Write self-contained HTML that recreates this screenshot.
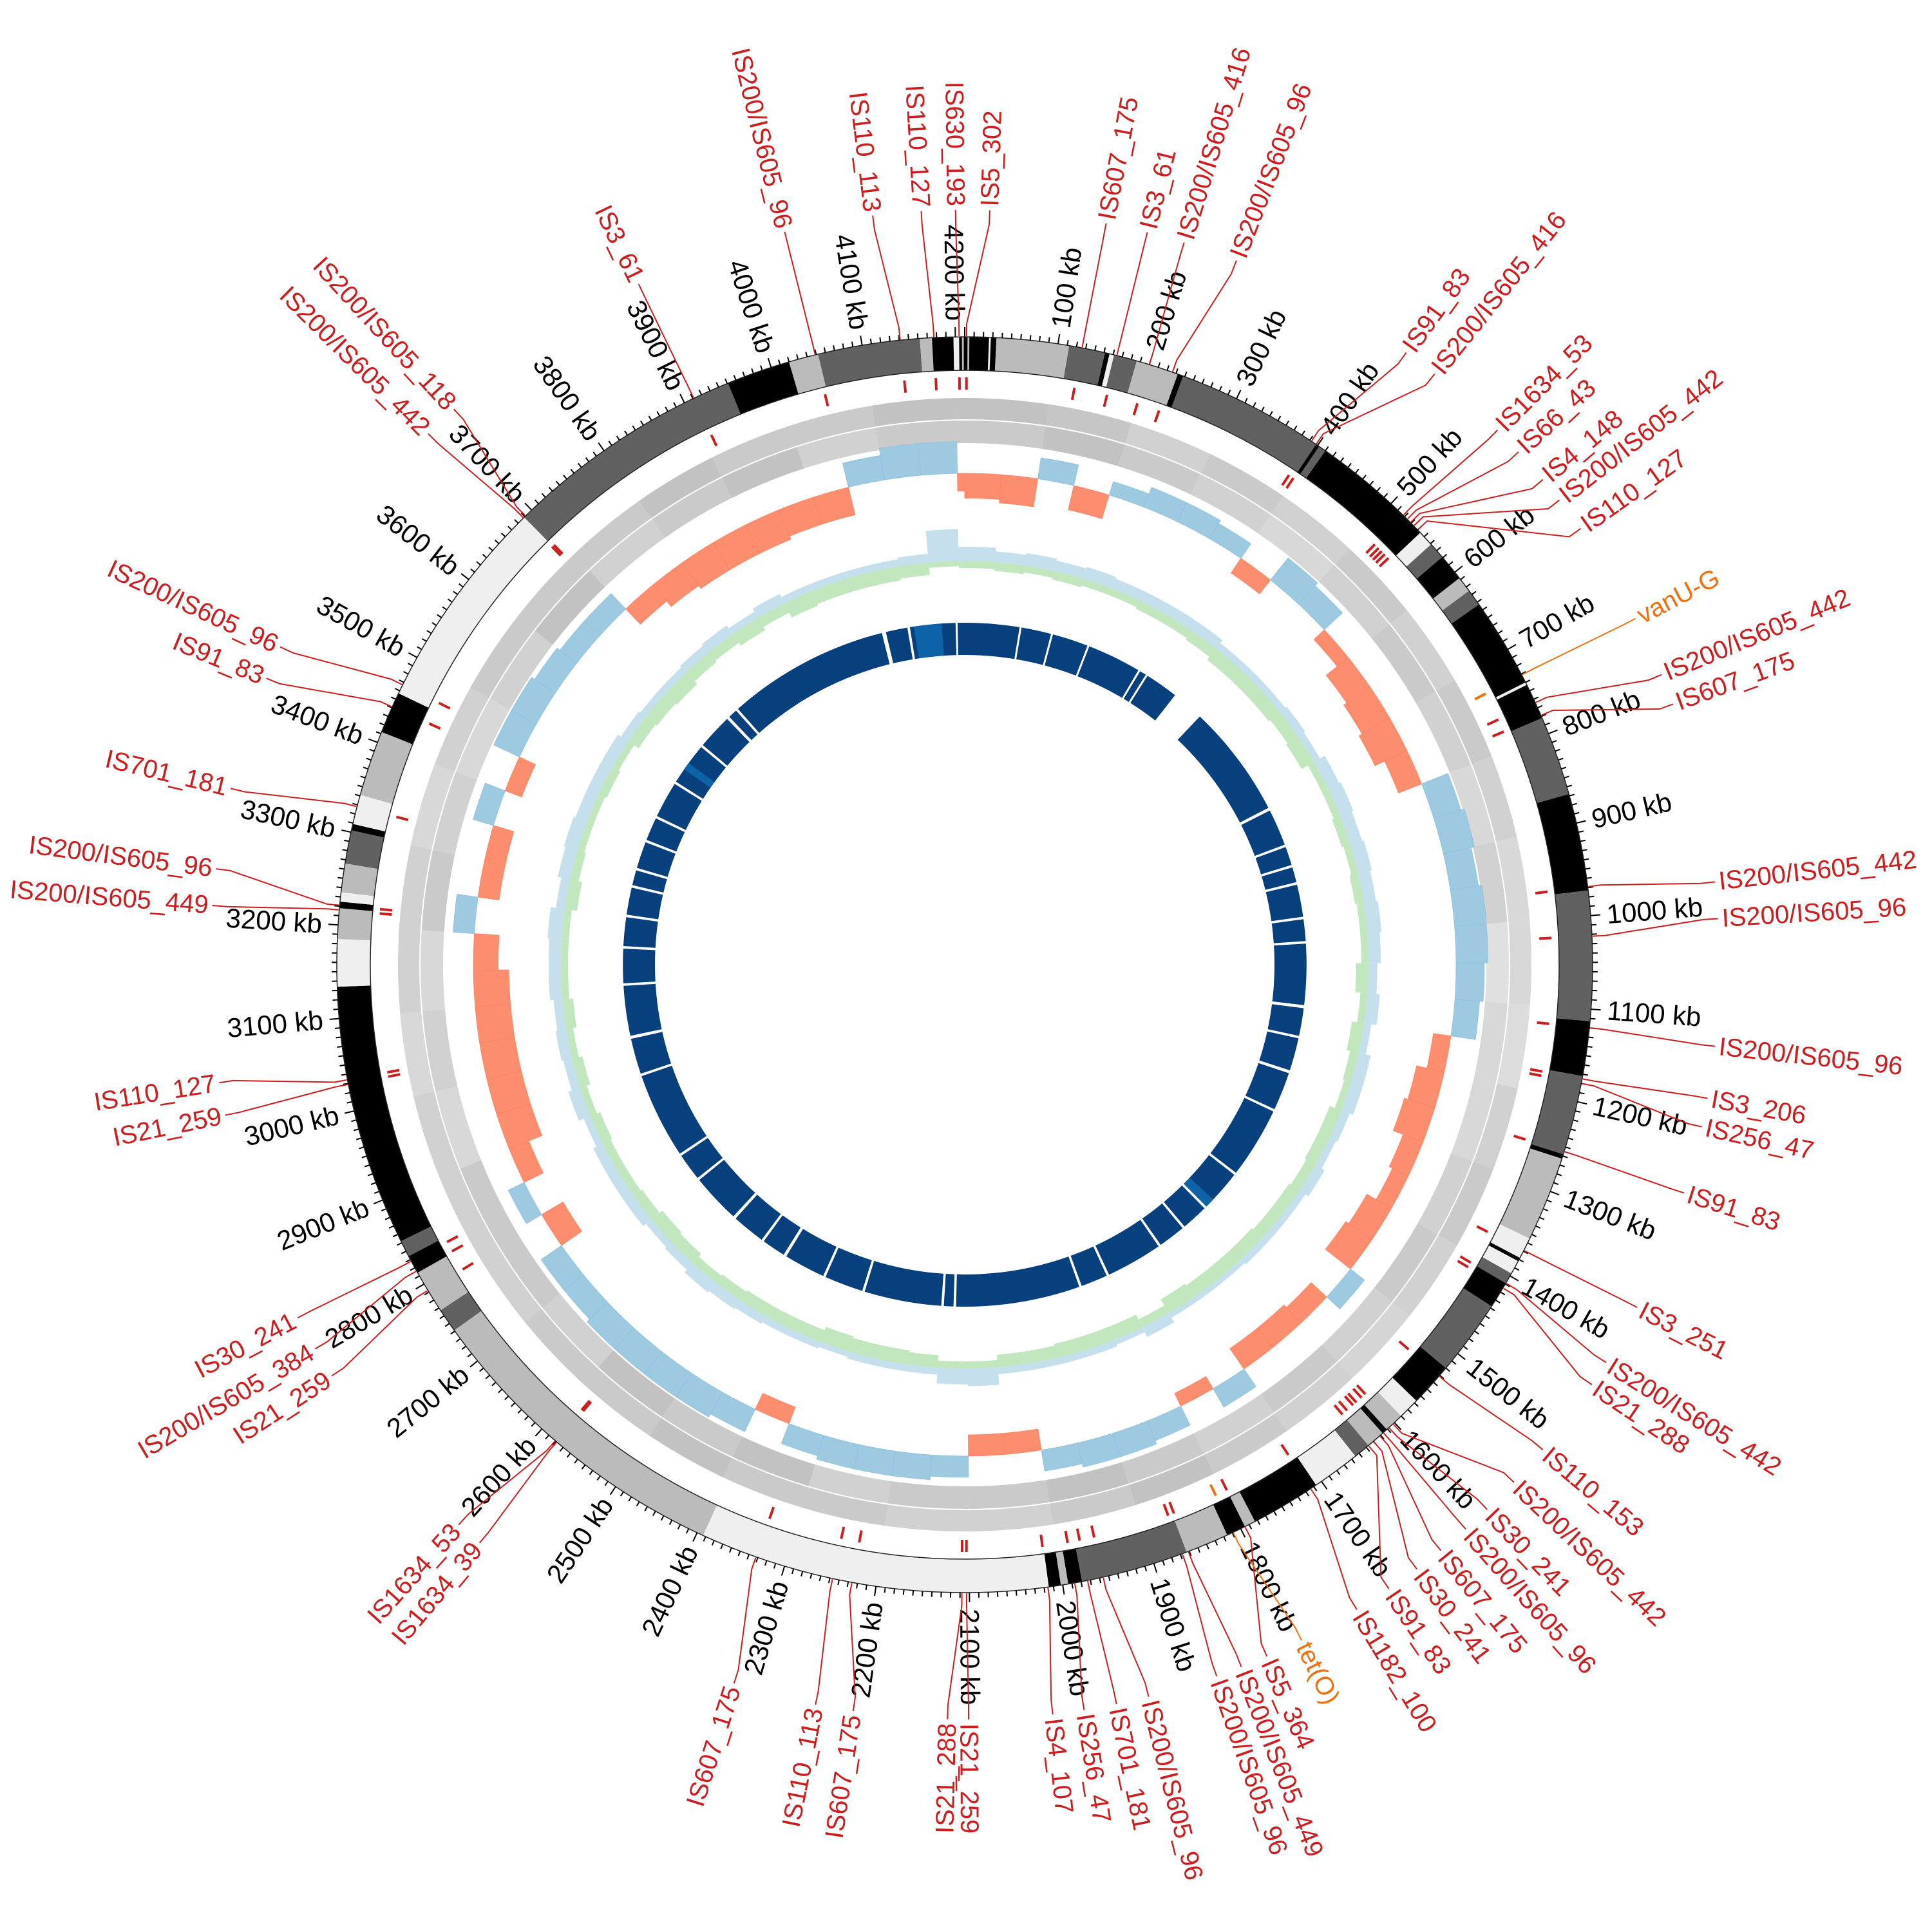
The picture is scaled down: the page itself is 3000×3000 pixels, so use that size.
<!DOCTYPE html>
<html><head><meta charset="utf-8"><title>Circular genome map</title>
<style>
html,body{margin:0;padding:0;background:#fff;}
svg{display:block;}
text{font-family:"Liberation Sans",sans-serif;}
</style></head>
<body>
<svg id="chart" xmlns="http://www.w3.org/2000/svg" width="3000" height="3000" viewBox="0 0 3000 3000">
<rect width="3000" height="3000" fill="#fff"/>
<g id="gGenes"></g>
<g id="gSkew"></g>
<g id="gGC"></g>
<g id="gBlue"></g>
<g id="gRing"></g>
<g id="gTicks"></g>
<g id="gIS"></g>
</svg>
<script>
// ---- data ----
const genomeKb = 4210;
const contigStart = [0,34,112,151,156,161,186,232,237,398,402,410,544,561,579,608,625,643,740,743,782,868,973,1113,1172,1258,1263,1355,1378,1382,1397,1409,1438,1520,1567,1590,1611,1617,1637,1655,1707,1783,1795,1816,1863,1979,1994,2002,2015,2393,2741,2767,2814,2834,2852,3134,3185,3218,3225,3235,3266,3302,3309,3341,3412,3457,3689,3951,4020,4052,4162,4175,4198,4204];
const contigEnd   = [34,112,151,156,161,186,232,237,398,402,410,544,561,579,608,625,643,740,743,782,868,973,1113,1172,1258,1263,1355,1378,1382,1397,1409,1438,1520,1567,1590,1611,1617,1637,1655,1707,1783,1795,1816,1863,1979,1994,2002,2015,2393,2741,2767,2814,2834,2852,3134,3185,3218,3225,3235,3266,3302,3309,3341,3412,3457,3689,3951,4020,4052,4162,4175,4198,4204,4210];
const contigShade = [0,2,1,0,3,1,2,0,1,0,1,0,3,1,0,2,1,0,3,0,1,0,1,0,1,0,2,3,0,3,1,0,1,0,3,2,0,2,1,3,0,2,0,2,1,0,2,0,3,2,1,2,0,1,0,3,2,0,3,2,1,0,3,2,0,3,1,0,2,1,2,0,3,0];
const stripeKb = [26,3,4207,236];
const stripeShade = [3,2,2,0];
const skew = [-0.7,-0.8,0.6,-0.7,0.4,0.6,0.6,0.5,-0.5,0.8,0.7,-0.4,-0.8,-0.9,-1.0,-0.7,0.8,0.9,0.8,0.9,0.9,0.8,0.7,-0.5,-0.8,-0.9,-0.6,-0.5,-0.8,-0.9,0.5,-0.6,-0.7,-0.7,0.6,-0.4,0.6,0.7,0.7,0.6,-0.6,-0.6,0.6,0.7,0.7,0.7,0.6,-0.5,0.7,0.8,0.8,0.8,0.8,0.7,0.7,-0.7,0.5,-0.6,-1.0,-1.0,-1.0,-1.0,-1.0,-0.7,0.6,-0.6,-0.6,0.6,-0.5,0.8,0.8,0.7,0.6,0.6,-0.6,-0.8,-0.9,-0.9,-0.9,-0.8,-0.8,0.7,0.9,0.9,-0.5];
const gcHi = [0.4,0.3,0.35,0.3,0.35,0.3,0.3,0.3,0.3,0.2,0.2,0.2,0.25,0.2,0.35,0.4,0.35,0.4,0.35,0.4,0.35,0.25,0.35,0.2,0.35,0.35,0.25,0.2,0.3,0.2,0.2,0.2,0.15,0.15,0.15,0.3,0.15,0.2,0.2,0.2,0.2,0.5,0.45,0.2,0.2,0.2,0.15,0.2,0.2,0.25,0.3,0.35,0.25,0.2,0.3,0.3,0.3,0.2,0.35,0.25,0.3,0.25,0.35,0.35,0.4,0.25,0.35,0.4,0.35,0.35,0.35,0.25,0.2,0.2,0.25,0.3,0.2,0.3,0.2,0.2,0.2,0.2,0.25,0.9,0.4];
const gcLo = [0.2,0.25,0.2,0.25,0.2,0.2,0.25,0.25,0.3,0.4,0.4,0.4,0.35,0.4,0.2,0.2,0.25,0.2,0.25,0.2,0.2,0.35,0.2,0.35,0.25,0.2,0.35,0.35,0.3,0.35,0.35,0.4,0.4,0.4,0.45,0.25,0.4,0.4,0.4,0.35,0.35,0.2,0.2,0.35,0.4,0.4,0.45,0.35,0.35,0.35,0.3,0.25,0.35,0.4,0.3,0.25,0.25,0.3,0.2,0.3,0.2,0.3,0.2,0.2,0.2,0.35,0.25,0.2,0.2,0.25,0.2,0.35,0.4,0.45,0.35,0.3,0.4,0.3,0.45,0.4,0.4,0.4,0.35,0.15,0.2];
const genesFwd = [0.8,0.75,0.6,0.7,0.6,0.7,0.6,0.7,0.6,0.5,0.5,0.45,0.6,0.7,0.6,0.55,0.6,0.7,0.8,0.7,0.6,0.6,0.7,0.7,0.8,0.7,0.7,0.6,0.6,0.6,0.5,0.6,0.6,0.5,0.6,0.7,0.7,0.7,0.8,0.7,0.7,0.8,0.8];
const genesRev = [0.7,0.8,0.7,0.6,0.5,0.6,0.7,0.6,0.5,0.6,0.4,0.5,0.5,0.6,0.7,0.6,0.7,0.6,0.7,0.8,0.7,0.7,0.6,0.8,0.7,0.8,0.6,0.7,0.7,0.5,0.6,0.5,0.7,0.6,0.5,0.6,0.8,0.6,0.7,0.8,0.6,0.7,0.7];
const gapStart = [4046,4097,4192,108,171,246,357,374,444,733,812,854,889,958,1006,1132,1193,1263,1345,1491,1579,1637,1696,1813,1871,2122,2146,2304,2386,2473,2526,2597,2701,2760,2935,3011,3116,3189,3251,3310,3345,3403,3454,3531,3620,3695,3719];
const gapWidth = [8,5,4,4,4,4,4,4,64,6,5,5,5,5,5,6,5,6,5,5,5,5,5,5,5,5,5,5,5,6,5,6,5,5,5,6,5,5,5,5,5,5,5,5,5,6,5];
const lightStart = [4110,1560,3565];
const lightEnd = [4165,1585,3580];
const isName = ["IS5_302","IS630_193","IS110_127","IS110_113","IS200/IS605_96","IS3_61","IS200/IS605_118","IS200/IS605_442","IS200/IS605_96","IS91_83","IS701_181","IS200/IS605_96","IS200/IS605_449","IS110_127","IS21_259","IS30_241","IS200/IS605_384","IS21_259","IS1634_53","IS1634_39","IS607_175","IS110_113","IS607_175","IS21_288","IS21_259","IS4_107","IS256_47","IS701_181","IS200/IS605_96","IS200/IS605_96","IS200/IS605_449","IS5_364","tet(O)","IS1182_100","IS91_83","IS30_241","IS607_175","IS200/IS605_96","IS30_241","IS200/IS605_442","IS110_153","IS21_288","IS200/IS605_442","IS3_251","IS91_83","IS256_47","IS3_206","IS200/IS605_96","IS200/IS605_96","IS200/IS605_442","IS607_175","IS200/IS605_442","vanU-G","IS110_127","IS200/IS605_442","IS4_148","IS66_43","IS1634_53","IS200/IS605_416","IS91_83","IS200/IS605_96","IS200/IS605_416","IS3_61","IS607_175"];
const isKb = [2,4204,4177,4141,4049,3911,3691,3688,3467,3441,3328,3221,3216,3034,3029,2828,2816,2792,2581,2579,2332,2247,2226,2108,2103,2016,1987,1973,1956,1868,1861,1795,1809,1714,1637,1630,1621,1616,1608,1602,1531,1415,1409,1369,1255,1180,1175,1120,1022,969,779,764,731,540,534,529,524,518,398,392,226,200,164,126];
const isType = ["is","is","is","is","is","is","is","is","is","is","is","is","is","is","is","is","is","is","is","is","is","is","is","is","is","is","is","is","is","is","is","is","arg","is","is","is","is","is","is","is","is","is","is","is","is","is","is","is","is","is","is","is","arg","is","is","is","is","is","is","is","is","is","is","is"];
const labelDeg = [1.9,-0.7,-3.3,-7,-13.8,-25.6,-42.6,-45.3,-65.1,-67.7,-76.5,-82.7,-85.5,-99,-101.5,-117.9,-120.6,-123,-137.9,-140,-162.2,-168.6,-171.5,-178.7,-180.3,173.3,170.9,168.4,165.9,160.5,158.5,156.4,153.5,148.7,145.8,143.2,140.9,138.4,136.2,133.3,130,123.8,121.8,117,107.6,102.4,100.2,96.2,86.5,83.7,69.8,67.4,62.7,54.7,52,50,47.2,44.9,38.5,35.8,21.1,16.9,14,10.8];

// ---- drawing ----
const NS = "http://www.w3.org/2000/svg";
const cx = 1498, cy = 1498;
const shades = ["#000000","#616161","#bbbbbb","#efefef"];
function ang(kb){ return kb / genomeKb * 2 * Math.PI; }
function P(a, r){ return [cx + r * Math.sin(a), cy - r * Math.cos(a)]; }
function wedge(kb0, kb1, r0, r1){
  const a0 = ang(kb0), a1 = ang(kb1);
  const large = (a1 - a0) > Math.PI ? 1 : 0;
  const p0 = P(a0, r1), p1 = P(a1, r1), p2 = P(a1, r0), p3 = P(a0, r0);
  return `M${p0[0].toFixed(2)},${p0[1].toFixed(2)}A${r1},${r1} 0 ${large} 1 ${p1[0].toFixed(2)},${p1[1].toFixed(2)}L${p2[0].toFixed(2)},${p2[1].toFixed(2)}A${r0},${r0} 0 ${large} 0 ${p3[0].toFixed(2)},${p3[1].toFixed(2)}Z`;
}
function mk(tag, parent){ const e = document.createElementNS(NS, tag); parent.appendChild(e); return e; }

const gGenes = document.getElementById('gGenes');
genesFwd.forEach((d, i) => {
  const p = mk('path', gGenes);
  p.setAttribute('d', wedge(i*100, Math.min((i+1)*100, genomeKb), 847, 880));
  p.setAttribute('fill', '#999'); p.setAttribute('fill-opacity', (d*0.75).toFixed(2));
  
  
});
genesRev.forEach((d, i) => {
  const p = mk('path', gGenes);
  p.setAttribute('d', wedge(i*100, Math.min((i+1)*100, genomeKb), 810, 845));
  p.setAttribute('fill', '#999'); p.setAttribute('fill-opacity', (d*0.75).toFixed(2));
  
  
});

const gSkew = document.getElementById('gSkew');
const skewBase = 763, skewAmp = 55;
skew.forEach((v, i) => {
  const k0 = i*50, k1 = Math.min((i+1)*50, genomeKb);
  const r1 = skewBase + v*skewAmp;
  const p = mk('path', gSkew);
  p.setAttribute('d', wedge(k0, k1, Math.min(skewBase, r1), Math.max(skewBase, r1)));
  p.setAttribute('fill', v >= 0 ? '#9ecae1' : '#fc8d6e');
  p.setAttribute('stroke', v >= 0 ? '#8fc0dd' : '#fa8464');
  p.setAttribute('stroke-width', '0.8');
  
  
});

const gGC = document.getElementById('gGC');
const gcBase = 627, gcAmp = 55;
gcHi.forEach((v, i) => {
  const p = mk('path', gGC);
  p.setAttribute('d', wedge(i*50, Math.min((i+1)*50, genomeKb), gcBase, gcBase + v*gcAmp));
  p.setAttribute('fill', '#9ecae1'); p.setAttribute('fill-opacity', '0.6');
  
  
});
gcLo.forEach((v, i) => {
  const p = mk('path', gGC);
  p.setAttribute('d', wedge(i*50, Math.min((i+1)*50, genomeKb), gcBase - v*gcAmp, gcBase));
  p.setAttribute('fill', '#a1d99b'); p.setAttribute('fill-opacity', '0.65');
  
  
});

const gBlue = document.getElementById('gBlue');
const ringB = mk('path', gBlue);
ringB.setAttribute('d', wedge(0, genomeKb/2, 481, 531) + wedge(genomeKb/2, genomeKb, 481, 531));
ringB.setAttribute('fill', '#08407e');


lightStart.forEach((s, i) => {
  const p = mk('path', gBlue);
  p.setAttribute('d', wedge(s, lightEnd[i], 481, 531));
  p.setAttribute('fill', '#0d62a8');
  
  
});
gapStart.forEach((s, i) => {
  const p = mk('path', gBlue);
  p.setAttribute('d', wedge(s, s + gapWidth[i], 478, 534));
  p.setAttribute('fill', '#fff');
  
  
});

const gRing = document.getElementById('gRing');
contigStart.forEach((s, i) => {
  const p = mk('path', gRing);
  p.setAttribute('d', wedge(s, contigEnd[i], 923, 975));
  p.setAttribute('fill', shades[contigShade[i]]);
  
  
});
stripeKb.forEach((s, i) => {
  const p = mk('path', gRing);
  p.setAttribute('d', wedge(s, s + 2, 923, 975));
  p.setAttribute('fill', shades[stripeShade[i]]);
  
  
});
[923, 975].forEach(r => {
  const c = mk('circle', gRing);
  c.setAttribute('cx', cx); c.setAttribute('cy', cy); c.setAttribute('r', r);
  c.setAttribute('fill', 'none'); c.setAttribute('stroke', '#222'); c.setAttribute('stroke-width', '1.5');
  
  
});

const gTicks = document.getElementById('gTicks');
function placeRadialText(g, deg, r, str, size, color, name){
  const a = deg * Math.PI / 180;
  const p = P(a, r);
  let phi = deg - 90;
  phi = ((phi % 360) + 360) % 360;
  let anchor = 'start';
  if (phi > 90 && phi < 270) { phi -= 180; anchor = 'end'; }
  const t = mk('text', g);
  t.setAttribute('x', p[0].toFixed(1)); t.setAttribute('y', p[1].toFixed(1));
  t.setAttribute('transform', `rotate(${phi.toFixed(2)} ${p[0].toFixed(1)} ${p[1].toFixed(1)})`);
  t.setAttribute('text-anchor', anchor);
  t.setAttribute('dominant-baseline', 'central');
  t.setAttribute('font-size', size);
  t.setAttribute('fill', color);
  t.textContent = str;
  
  
  return t;
}
let tickD = '';
for (let k = 0; k < genomeKb; k += 10) {
  const major = (k % 100 === 0);
  const a = ang(k);
  const p0 = P(a, 975), p1 = P(a, 975 + (major ? 15 : 8));
  tickD += `M${p0[0].toFixed(1)},${p0[1].toFixed(1)}L${p1[0].toFixed(1)},${p1[1].toFixed(1)}`;
  if (major && k > 0) {
    placeRadialText(gTicks, k / genomeKb * 360, 1000, k + ' kb', 42, '#000', 'kb-tick-label');
  }
}
const tk = mk('path', gTicks);
tk.setAttribute('d', tickD); tk.setAttribute('stroke', '#000'); tk.setAttribute('stroke-width', '2'); tk.setAttribute('fill', 'none');



const gIS = document.getElementById('gIS');
isName.forEach((nm, i) => {
  const col = isType[i] === 'arg' ? '#f07010' : '#cc1e1e';
  const a = ang(isKb[i]);
  const m0 = P(a, 893), m1 = P(a, 912);
  const mark = mk('line', gIS);
  mark.setAttribute('x1', m0[0].toFixed(1)); mark.setAttribute('y1', m0[1].toFixed(1));
  mark.setAttribute('x2', m1[0].toFixed(1)); mark.setAttribute('y2', m1[1].toFixed(1));
  mark.setAttribute('stroke', col); mark.setAttribute('stroke-width', '4');
  
  
  const la = labelDeg[i] * Math.PI / 180;
  const q0 = P(a, 976), q1 = P(a, 995), q2 = P(la, 1150), q3 = P(la, 1172);
  const ln = mk('polyline', gIS);
  ln.setAttribute('points', [q0, q1, q2, q3].map(q => q[0].toFixed(1) + ',' + q[1].toFixed(1)).join(' '));
  ln.setAttribute('fill', 'none'); ln.setAttribute('stroke', col); ln.setAttribute('stroke-width', '2');
  
  
  placeRadialText(gIS, labelDeg[i], 1178, nm, 40, col, 'is-label');
});
</script>
</body></html>
